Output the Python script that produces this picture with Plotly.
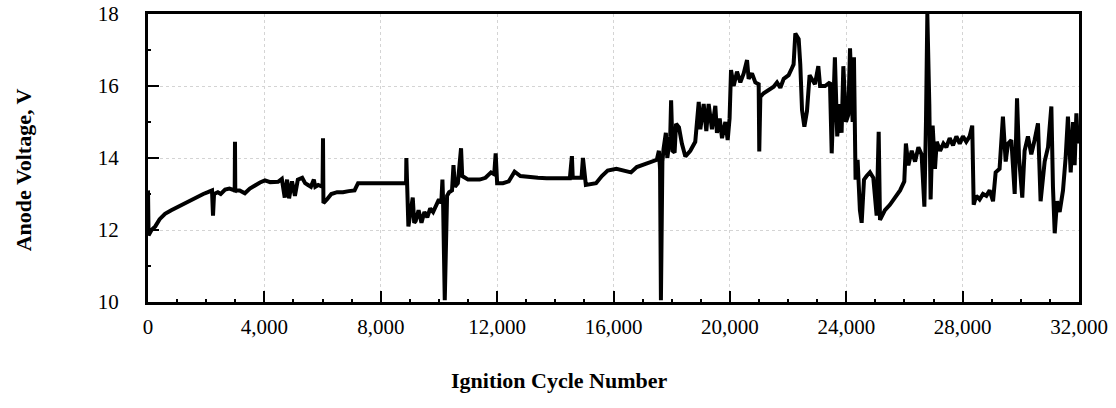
import plotly.graph_objects as go

# ============================================
# DATA
# ============================================
cycle = [
    0, 20, 120, 250, 400, 585, 800, 1030, 1200, 1375, 1550, 1720, 1900, 2060, 2200, 2235, 2270,
    2400, 2500, 2650, 2800, 2980, 2990, 3000, 3150, 3330, 3500, 3680, 3850, 4020, 4200, 4470,
    4600, 4700, 4780, 4850, 4950, 5050, 5150, 5300, 5400, 5500, 5600, 5700, 5750, 5850, 6000,
    6015, 6030, 6150, 6300, 6500, 6700, 6900, 7100, 7220, 7600, 8000, 8500, 8800, 8870, 8880,
    8950, 9100, 9150, 9200, 9300, 9400, 9500, 9600, 9700, 9800, 9900, 10000, 10080, 10120,
    10140, 10200, 10280, 10350, 10450, 10500, 10550, 10650, 10760, 10800, 10900, 11000, 11200,
    11400, 11600, 11790, 11900, 11950, 12000, 12200, 12400, 12600, 12800, 13000, 13400, 13700,
    14000, 14300, 14500, 14570, 14600, 14900, 14950, 15050, 15200, 15400, 15600, 15800, 16100,
    16400, 16600, 16800, 17000, 17200, 17400, 17490, 17560, 17600, 17630, 17680, 17720, 17800,
    17850, 17950, 17980, 18030, 18100, 18150, 18250,
    18350, 18470, 18640, 18810, 18930, 18985, 19100, 19190, 19270, 19385, 19500, 19555, 19650,
    19730, 19845, 19925, 19990, 20040, 20130, 20245, 20360, 20475, 20590, 20645, 20760, 20875,
    20990, 21010, 21047, 21160, 21335, 21505, 21620, 21735, 21850, 22020, 22135, 22190, 22250,
    22365, 22420, 22480, 22560, 22650, 22740,
    22810, 22925, 23040, 23100, 23270, 23440, 23500, 23555, 23610, 23690, 23785, 23840, 23900,
    23990, 24070, 24130, 24220, 24265, 24320, 24390, 24470, 24530, 24610, 24700, 24815, 24930,
    25045, 25115, 25160, 25330, 25500, 25675, 25850, 25995, 26050, 26135, 26250, 26365, 26480,
    26590, 26685, 26740, 26787, 26855, 26900, 26970, 27050, 27110, 27225, 27340,
    27440, 27555, 27670, 27785, 27900, 28010, 28125, 28240, 28330, 28380, 28470, 28585, 28700,
    28815, 28930, 29045, 29135, 29270, 29385, 29480, 29560, 29675, 29790, 29870, 29940, 30050,
    30130, 30245, 30360, 30475, 30590, 30680, 30820, 30935, 31050, 31105, 31165, 31245, 31335,
    31450, 31540, 31620, 31715, 31795, 31850, 31910, 31960,
]

voltage = [
    13.1, 11.85, 12.0, 12.1, 12.3, 12.45, 12.55, 12.65, 12.72, 12.8, 12.85, 12.93, 13.0, 13.05, 13.1, 12.4, 13.0,
    13.05, 13.0, 13.12, 13.15, 13.1, 14.45, 13.1, 13.1, 13.02, 13.15, 13.25, 13.32, 13.38, 13.33, 13.34,
    13.42, 12.9, 13.4, 12.88, 13.35, 12.95, 13.4, 13.45, 13.3, 13.25, 13.2, 13.4, 13.2, 13.25, 13.2,
    14.55, 12.75, 12.85, 13.0, 13.05, 13.05, 13.08, 13.1, 13.3, 13.3, 13.3, 13.3, 13.32, 13.3, 14.0,
    12.1, 12.9, 12.2, 12.25, 12.55, 12.2, 12.5, 12.35, 12.6, 12.5, 12.7, 12.85, 12.75, 13.4,
    12.9, 10.05, 12.95, 13.05, 13.1, 13.8, 13.2, 13.3, 14.27, 13.5, 13.45, 13.4, 13.4,
    13.4, 13.45, 13.6, 13.55, 14.13, 13.3, 13.3, 13.35, 13.62, 13.5, 13.48, 13.45, 13.44,
    13.44, 13.44, 13.44, 14.05, 13.45, 13.45, 14.0, 13.25, 13.28, 13.3, 13.5, 13.65, 13.7,
    13.65, 13.6, 13.75, 13.8, 13.85, 13.9, 13.95, 14.2, 13.7, 10.05, 13.9, 14.25, 14.7,
    14.0, 14.6, 15.6, 14.2, 14.15, 14.95, 14.85,
    14.4, 14.04, 14.2, 14.45, 15.56, 14.8, 15.5, 14.75, 15.5, 14.8, 15.45, 14.7, 15.1,
    14.55, 15.0, 14.5, 15.1, 16.44, 16.0, 16.4, 16.1, 16.35, 16.72, 16.2, 16.35, 16.1,
    16.05, 14.18, 15.7, 15.8, 15.9, 15.98, 16.1, 15.95, 16.2, 16.3, 16.5, 16.6, 17.46,
    17.3, 16.6, 15.33, 14.87, 15.3, 16.3,
    16.2, 16.05, 16.55, 16.0, 16.0, 16.1, 14.13, 15.5, 16.8, 14.6, 15.5, 14.7, 16.55,
    15.0, 15.2, 17.05, 15.0, 16.8, 13.4, 13.95, 12.55, 12.2, 13.4, 13.5, 13.6, 13.45,
    12.4, 14.73, 12.28, 12.55, 12.7, 12.9, 13.1, 13.35, 14.4, 13.8, 14.2, 13.9, 14.3,
    14.1, 12.65, 15.0, 18.0, 15.5, 12.85, 14.9, 13.7, 14.45, 14.2, 14.4,
    14.3, 14.55, 14.35, 14.6, 14.4, 14.6, 14.45, 14.6, 14.9, 12.7, 12.95, 12.85, 13.0,
    12.95, 13.1, 12.8, 13.6, 13.7, 15.15, 13.9, 14.4, 14.5, 13.0, 15.66, 14.0, 12.9,
    14.2, 14.6, 14.1, 14.5, 14.96, 12.8, 13.9, 14.3, 15.43, 13.2, 11.91, 12.8, 12.5,
    13.1, 14.0, 15.15, 13.6, 15.0, 13.8, 15.24, 14.4,
]

x_ticks = [0, 4000, 8000, 12000, 16000, 20000, 24000, 28000, 32000]
x_tick_text = ["0", "4,000", "8,000", "12,000", "16,000", "20,000", "24,000", "28,000", "32,000"]
y_ticks = [10, 12, 14, 16, 18]

# ============================================
# CHART
# ============================================
serif = "Liberation Serif, Times New Roman, serif"

fig = go.Figure()
fig.add_trace(go.Scatter(
    x=cycle, y=voltage, mode="lines",
    line=dict(color="black", width=4),
    hoverinfo="skip", showlegend=False,
))

fig.update_layout(
    width=1116, height=408,
    margin=dict(l=148, r=37, t=14, b=106),
    paper_bgcolor="white", plot_bgcolor="white",
    font=dict(family=serif, size=21, color="black"),
)

fig.update_xaxes(
    range=[0, 32000], automargin=False,
    tickvals=x_ticks, ticktext=x_tick_text,
    ticks="inside", ticklen=11, tickwidth=2, tickcolor="black",
    minor=dict(dtick=1000, ticks="inside", ticklen=3, tickwidth=2, tickcolor="black", showgrid=False),
    showline=True, linecolor="black", linewidth=3, mirror=True,
    showgrid=True, gridcolor="#d4d4d4", griddash="dot", gridwidth=1,
    zeroline=False, ticklabelstandoff=4, ticklabeloverflow="allow",
)

fig.update_yaxes(
    range=[10, 18], automargin=False,
    tickvals=y_ticks,
    ticks="inside", ticklen=11, tickwidth=2, tickcolor="black",
    minor=dict(dtick=1, ticks="inside", ticklen=3, tickwidth=2, tickcolor="black", showgrid=False),
    showline=True, linecolor="black", linewidth=3, mirror=True,
    showgrid=True, gridcolor="#d4d4d4", griddash="dot", gridwidth=1,
    zeroline=False, ticklabelstandoff=22, ticklabeloverflow="allow",
)

# axis titles sit a little off-centre in the original, so place them as annotations
fig.add_annotation(text="<b>Ignition Cycle Number</b>", xref="paper", yref="paper",
                   x=0.4415, y=-0.271, xanchor="center", yanchor="middle",
                   showarrow=False, font=dict(family=serif, size=22))
fig.add_annotation(text="<b>Anode Voltage, V</b>", xref="paper", yref="paper",
                   x=-0.134, y=0.458, xanchor="center", yanchor="middle", textangle=-90,
                   showarrow=False, font=dict(family=serif, size=22))

# drop the default 8px body margin so the figure sits flush in the window
fig.write_html("out.html", config={"displayModeBar": False},
               post_script="document.body.style.margin='0';")
